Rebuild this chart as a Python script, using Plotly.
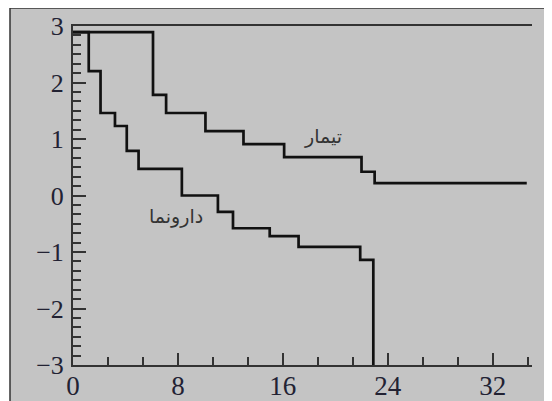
import plotly.graph_objects as go

# Treatment (تیمار) step curve
treat_t = [0, 6.1, 7.1, 10.1, 13.0, 16.1, 22.0, 23.0, 34.6]
treat_v = [2.89, 1.78, 1.46, 1.14, 0.91, 0.68, 0.42, 0.22, 0.22]

# Placebo (دارونما) step curve
plac_t = [0, 1.2, 2.1, 3.2, 4.1, 5.0, 8.3, 11.05, 12.2, 15.0, 17.2, 21.9, 22.9]
plac_v = [2.89, 2.2, 1.46, 1.23, 0.79, 0.47, 0.0, -0.29, -0.58, -0.72, -0.91, -1.14, -3.0]

x_ticks = [0, 8, 16, 24, 32]
y_ticks = [-3, -2, -1, 0, 1, 2, 3]
label_treat = "تیمار"
label_plac = "دارونما"

fig = go.Figure()
fig.add_trace(go.Scatter(x=treat_t, y=treat_v, mode="lines", line_shape="hv",
                         line=dict(color="#111111", width=2.7), showlegend=False))
fig.add_trace(go.Scatter(x=plac_t, y=plac_v, mode="lines", line_shape="hv",
                         line=dict(color="#111111", width=2.7), showlegend=False))

fig.add_annotation(x=19.05, y=1.04, text=label_treat, showarrow=False,
                   font=dict(family="DejaVu Sans", size=19, color="#333333"))
fig.add_annotation(x=7.85, y=-0.38, text=label_plac, showarrow=False,
                   font=dict(family="DejaVu Sans", size=19, color="#333333"))

# page body adds an 8px offset; figure coordinates compensate for it
OFF = 8
W, H = 552, 401
L, R, T, B = 73 - OFF, W - (532 - OFF), 26 - OFF, H - (365 - OFF)
pw, ph = W - L - R, H - T - B
fig.add_shape(type="rect", xref="paper", yref="paper", layer="below",
              x0=(10 - OFF - L) / pw, x1=(W + 20 - L) / pw,
              y0=(H - B - (H + 20)) / ph, y1=(H - B - (8 - OFF)) / ph,
              fillcolor="#c4c4c4", line=dict(color="#333333", width=1.5))

fig.update_layout(
    width=W, height=H,
    margin=dict(l=L, r=R, t=T, b=B, autoexpand=False),
    paper_bgcolor="white", plot_bgcolor="rgba(0,0,0,0)",
    xaxis=dict(range=[0, 35], tickvals=x_ticks, ticktext=[str(v) for v in x_ticks],
               automargin=False, ticklabelstandoff=-4,
               showgrid=False, zeroline=False, showline=True, mirror=True,
               linecolor="#333333", linewidth=2, ticks="inside", ticklen=12,
               tickwidth=1.5, tickcolor="#333333",
               minor=dict(dtick=8 / 3, tick0=0, ticks="inside", ticklen=8,
                          tickwidth=1.5, tickcolor="#333333", showgrid=False),
               tickfont=dict(family="Liberation Serif", size=27, color="#222233")),
    yaxis=dict(range=[-3, 3], tickvals=y_ticks, showgrid=False, zeroline=False,
               automargin=False, ticklabelstandoff=2,
               showline=True, mirror=False, linecolor="#333333", linewidth=2,
               ticks="inside", ticklen=13, tickwidth=1.5, tickcolor="#333333",
               minor=dict(dtick=1 / 6, tick0=0, ticks="inside", ticklen=8,
                          tickwidth=1.5, tickcolor="#333333", showgrid=False),
               tickfont=dict(family="Liberation Serif", size=26, color="#222233")),
)

fig.write_html("out.html")
